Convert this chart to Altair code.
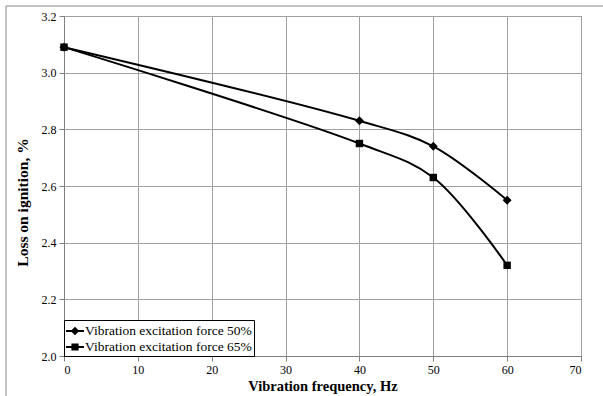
import altair as alt
import pandas as pd

freq = [0, 40, 50, 60]
force50 = [3.09, 2.83, 2.74, 2.55]
force65 = [3.09, 2.75, 2.63, 2.32]
series_names = ["Vibration excitation force 50%", "Vibration excitation force 65%"]

rows = []
for f, v in zip(freq, force50):
    rows.append({"freq": f, "loi": v, "series": series_names[0]})
for f, v in zip(freq, force65):
    rows.append({"freq": f, "loi": v, "series": series_names[1]})
df = pd.DataFrame(rows)

FONT = "Liberation Serif"

x = alt.X("freq:Q", scale=alt.Scale(domain=[0, 70], nice=False),
          axis=alt.Axis(values=[0, 10, 20, 30, 40, 50, 60, 70], title="Vibration frequency, Hz",
                        titlePadding=4, titleFontSize=14.5))
y = alt.Y("loi:Q", scale=alt.Scale(domain=[2.0, 3.2], nice=False, zero=False),
          axis=alt.Axis(values=[2.0, 2.2, 2.4, 2.6, 2.8, 3.0, 3.2], format=".1f",
                        title="Loss on ignition, %", titlePadding=11, titleY=186,
                        titleFontSize=15.5))

base = alt.Chart(df)

lines = base.mark_line(color="black", strokeWidth=2, interpolate="catmull-rom").encode(
    x=x, y=y, detail="series:N")

points = base.mark_point(filled=True, color="black", opacity=1).encode(
    x=x, y=y,
    shape=alt.Shape("series:N", scale=alt.Scale(domain=series_names, range=["diamond", "square"]), legend=None),
    size=alt.Size("series:N", scale=alt.Scale(domain=series_names, range=[80, 55]), legend=None),
)

diamond_path = "M-1,-0.11H1V0.11H-1ZM0,-0.48L0.48,0L0,0.48L-0.48,0Z"
square_path = "M-1,-0.11H1V0.11H-1ZM-0.4,-0.4H0.4V0.4H-0.4Z"

legend_layer = base.mark_point(filled=True, color="black", opacity=0).encode(
    x=x, y=y,
    shape=alt.Shape("series:N",
                    scale=alt.Scale(domain=series_names, range=[diamond_path, square_path]),
                    legend=alt.Legend(title=None, orient="bottom-left", offset=0,
                                      symbolOpacity=1, symbolFillColor="black",
                                      symbolStrokeColor="black", symbolStrokeWidth=0,
                                      symbolSize=324, labelFont=FONT, labelFontSize=13.5,
                                      labelColor="black", labelLimit=400, strokeColor="black",
                                      fillColor="white", padding=2, rowPadding=0,
                                      labelOffset=1, symbolOffset=0)),
)

frame = alt.Chart(pd.DataFrame({"a": [0]})).mark_rect(
    fill=None, stroke="#888888", strokeWidth=1, clip=False).encode(
    x=alt.value(-58), x2=alt.value(540), y=alt.value(-10), y2=alt.value(400))

chart = alt.layer(frame, lines, points, legend_layer).resolve_scale(
    shape="independent", size="independent"
).properties(
    width=517, height=340,
    padding={"left": 64, "top": 16, "right": 22, "bottom": 40},
    autosize=alt.AutoSizeParams(type="none"),
    background="white",
).configure(
    font=FONT
).configure_view(
    stroke="#808080", strokeWidth=1
).configure_axis(
    labelFont=FONT, labelFontSize=12, labelColor="black",
    titleFont=FONT, titleFontWeight="bold", titleColor="black",
    gridColor="#a0a0a0", gridWidth=1, domainColor="#808080", tickColor="#808080",
    tickSize=5, labelPadding=3,
)

chart.save("out.html", embed_options={"renderer": "svg", "actions": False})
